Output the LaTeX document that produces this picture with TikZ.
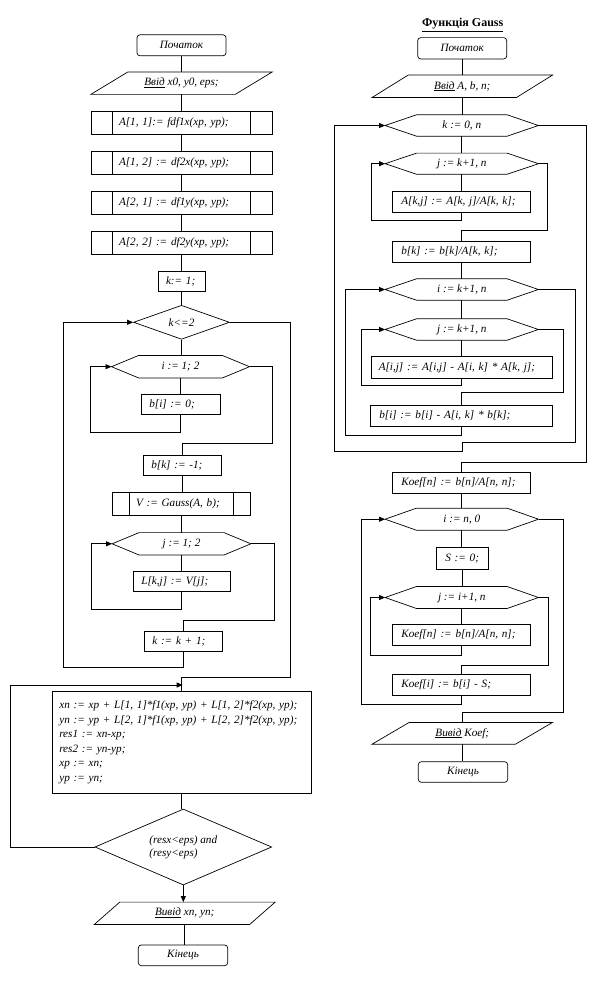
\documentclass[tikz,border=0pt]{standalone}
\usepackage{fontspec}
\setmainfont{Liberation Serif}
\usetikzlibrary{shapes.geometric,arrows.meta}
\newcommand\mkhex[2]{\draw[ln] (#1.west) -- ([xshift=#2pt]#1.north west) -- ([xshift=-#2pt]#1.north east) -- (#1.east) -- ([xshift=-#2pt]#1.south east) -- ([xshift=#2pt]#1.south west) -- cycle;}
\newcommand\mkpara[2]{\draw[ln] ([xshift=-#2pt]#1.south west) -- ([xshift=#2pt]#1.north west) -- ([xshift=#2pt]#1.north east) -- ([xshift=-#2pt]#1.south east) -- cycle;}
\newcommand\mksub[2]{\draw[ln] ([xshift=#2pt]#1.north west) -- ([xshift=#2pt]#1.south west); \draw[ln] ([xshift=-#2pt]#1.north east) -- ([xshift=-#2pt]#1.south east);}
\newcommand\vl[2]{\draw[ln] (#1.south) -- (#1.south |- #2.north);}
\begin{document}
\begin{tikzpicture}[x=1pt,y=-1pt,
  ln/.style={line width=0.7pt},
  arr/.style={ln,-{Triangle[length=6pt,width=5pt]}},
  every node/.style={font=\fontsize{11.2}{13}\selectfont\itshape},
  term/.style={draw,ln,rounded corners=3pt,minimum width=89pt,minimum height=21pt,inner sep=0pt},
  pbox/.style={draw,ln,inner xsep=8pt,inner ysep=0pt,align=left},
  rbox/.style={draw,ln,inner xsep=9pt,inner ysep=0pt,align=left},
  plain/.style={inner sep=0pt,align=center},
  dia/.style={draw,ln,diamond,inner sep=0pt}]
\fill[white] (0,0) rectangle (600,1000);
\useasboundingbox (0,0) rectangle (600,1000);

% ---------------- left column ----------------
\node[term] (s1) at (181.5,45.3) {Початок};
\node[plain,minimum width=144pt,minimum height=22pt] (in1) at (181.5,83.2) {\underline{Ввід} x0, y0, eps;};
\mkpara{in1}{18.5}
\node[pbox,inner xsep=28pt,text width=125pt,minimum height=23pt] (a11) at (181.5,122.8) {A[1, 1]:= fdf1x(xp, yp);};
\mksub{a11}{22}
\node[pbox,inner xsep=28pt,text width=125pt,minimum height=23pt] (a12) at (181.5,162.7) {A[1, 2] := df2x(xp, yp);};
\mksub{a12}{22}
\node[pbox,inner xsep=28pt,text width=125pt,minimum height=23pt] (a21) at (181.5,202.7) {A[2, 1] := df1y(xp, yp);};
\mksub{a21}{22}
\node[pbox,inner xsep=28pt,text width=125pt,minimum height=23pt] (a22) at (181.5,242.7) {A[2, 2] := df2y(xp, yp);};
\mksub{a22}{22}
\node[pbox,text width=31pt,minimum height=20.7pt] (k1) at (181.5,281.3) {k:= 1;};
\node[dia,aspect=2.8,minimum width=96pt,minimum height=34pt] (c1) at (181.5,322.3) {k<=2};
\node[plain,minimum width=137.6pt,minimum height=22pt] (hi1) at (180.5,366.7) {i := 1; 2};
\mkhex{hi1}{27}
\node[pbox,text width=63pt,minimum height=20pt] (bi1) at (180.8,404.3) {b[i] := 0;};
\node[pbox,text width=62pt,minimum height=20pt] (bk1) at (182.3,465.3) {b[k] := -1;};
\node[pbox,inner xsep=23.7pt,text width=90.6pt,minimum height=23pt] (gs) at (181.3,503.8) {V := Gauss(A, b);};
\mksub{gs}{17}
\node[plain,minimum width=138.4pt,minimum height=22pt] (hj1) at (181.5,543.8) {j := 1; 2};
\mkhex{hj1}{27}
\node[pbox,text width=81pt,minimum height=19.6pt] (lkj) at (181.8,581.5) {L[k,j] := V[j];};
\node[pbox,text width=62pt,minimum height=20pt] (kinc) at (183.3,641) {k := k + 1;};
\node[pbox,inner xsep=7pt,text width=245pt,minimum height=101.6pt,font=\fontsize{11.2}{14.5}\selectfont\itshape] (calc) at (181.8,742.5)
 {xn := xp + L[1, 1]*f1(xp, yp) + L[1, 2]*f2(xp, yp);\\
  yn := yp + L[2, 1]*f1(xp, yp) + L[2, 2]*f2(xp, yp);\\
  res1 := xn-xp;\\
  res2 := yn-yp;\\
  xp := xn;\\
  yp := yn;};
\node[dia,aspect=2.32,minimum width=176.7pt,minimum height=76pt,align=left] (c2) at (183.3,847) {(resx<eps) and\\(resy<eps)};
\node[plain,minimum width=155pt,minimum height=22pt] (out1) at (184.7,913.3) {\underline{Вивід} xn, yn;};
\mkpara{out1}{12.75}
\node[term,minimum width=89.4pt,minimum height=20.7pt] (e1) at (183,955.3) {Кінець};
\coordinate (j1) at (182.7,685);

\vl{s1}{in1}
\vl{in1}{a11}
\vl{a11}{a12}
\vl{a12}{a21}
\vl{a21}{a22}
\vl{a22}{k1}
\vl{k1}{c1}
\vl{c1}{hi1}
\vl{hi1}{bi1}
\draw[arr] (bi1.south) |- (90.3,432.3) |- (hi1.west);
\draw[ln] (hi1.east) -| (272.3,443.3) -| (bk1.north);
\vl{bk1}{gs}
\vl{gs}{hj1}
\vl{hj1}{lkj}
\draw[arr] (lkj.south) |- (91.3,609.3) |- (hj1.west);
\draw[ln] (hj1.east) -| (274.3,620.3) -| (kinc.north);
\draw[arr] (kinc.south) |- (63.3,667.3) |- (c1.west);
\draw[ln] (c1.east) -| (290.7,677.3) -| (calc.north);
\draw[arr] (c2.west) -| (10.7,685) -- (j1);
\vl{calc}{c2}
\draw[arr] (c2.south) -- (c2.south |- out1.north);
\vl{out1}{e1}

% ---------------- right column ----------------
\node[font=\fontsize{12}{14}\selectfont\bfseries\upshape] (title) at (462.7,25) {\underline{Функція Gauss}};
\node[term,minimum height=21.3pt] (s2) at (462.2,48.3) {Початок};
\node[plain,minimum width=144pt,minimum height=22pt] (in2) at (462.3,86.3) {\underline{Ввід} A, b, n;};
\mkpara{in2}{18}
\node[plain,minimum width=153pt,minimum height=21pt] (hk) at (461.8,125.5) {k := 0, n};
\mkhex{hk}{31.4}
\node[plain,minimum width=153pt,minimum height=20.7pt] (hj2) at (461.8,163.7) {j := k+1, n};
\mkhex{hj2}{31.4}
\node[rbox,text width=120pt,minimum height=20.7pt] (akj) at (461.3,201.7) {A[k,j] := A[k, j]/A[k, k];};
\node[rbox,text width=120pt,minimum height=21pt] (bkk) at (461.3,251.8) {b[k] := b[k]/A[k, k];};
\node[plain,minimum width=153pt,minimum height=21pt] (hi2) at (461.8,289.5) {i := k+1, n};
\mkhex{hi2}{31.4}
\node[plain,minimum width=153pt,minimum height=21pt] (hj3) at (461.8,329.5) {j := k+1, n};
\mkhex{hj3}{31.4}
\node[rbox,inner xsep=7.7pt,text width=165.9pt,minimum height=21.6pt] (aij) at (461.7,367.5) {A[i,j] := A[i,j] - A[i, k] * A[k, j];};
\node[rbox,text width=164pt,minimum height=21pt] (bi2) at (461.3,415.5) {b[i] := b[i] - A[i, k] * b[k];};
\node[rbox,text width=120pt,minimum height=21pt] (kn1) at (461.3,482.8) {Koef[n] := b[n]/A[n, n];};
\node[plain,minimum width=153pt,minimum height=21.7pt] (hin) at (461.8,519.2) {i := n, 0};
\mkhex{hin}{31.4}
\node[rbox,text width=34pt,minimum height=21.6pt] (s0) at (462.3,558.5) {S := 0;};
\node[plain,minimum width=153pt,minimum height=21.6pt] (hj4) at (461.8,597.5) {j := i+1, n};
\mkhex{hj4}{31.4}
\node[rbox,text width=120pt,minimum height=21pt] (kn2) at (461.3,634.8) {Koef[n] := b[n]/A[n, n];};
\node[rbox,text width=120pt,minimum height=20.7pt] (ki) at (461.3,684.7) {Koef[i] := b[i] - S;};
\node[plain,minimum width=143pt,minimum height=21.3pt] (out2) at (462.3,733.3) {\underline{Вивід} Koef;};
\mkpara{out2}{18.5}
\node[term,minimum width=89.4pt,minimum height=20.6pt] (e2) at (463,772) {Кінець};

\vl{s2}{in2}
\vl{in2}{hk}
\vl{hk}{hj2}
\vl{hj2}{akj}
\draw[arr] (akj.south) |- (371.7,220.7) |- (hj2.west);
\draw[ln] (hj2.east) -| (547.7,230) -| (bkk.north);
\vl{bkk}{hi2}
\vl{hi2}{hj3}
\vl{hj3}{aij}
\draw[arr] (aij.south) |- (361.3,385) |- (hj3.west);
\draw[ln] (hj3.east) -| (563.3,392.3) -| (bi2.north);
\draw[arr] (bi2.south) |- (345.3,435) |- (hi2.west);
\draw[arr] (hi2.east) -| (575.7,442.3) -| (462.7,451.7) -- (334.3,451.7) |- (hk.west);
\draw[ln] (hk.east) -| (586.7,462) -| (kn1.north);
\vl{kn1}{hin}
\vl{hin}{s0}
\vl{s0}{hj4}
\vl{hj4}{kn2}
\draw[arr] (kn2.south) |- (370.7,655) |- (hj4.west);
\draw[ln] (hj4.east) -| (548.3,665) -| (ki.north);
\draw[arr] (ki.south) |- (361.3,704) |- (hin.west);
\draw[ln] (hin.east) -| (563.3,712.3) -| (out2.north);
\vl{out2}{e2}
\end{tikzpicture}
\end{document}
